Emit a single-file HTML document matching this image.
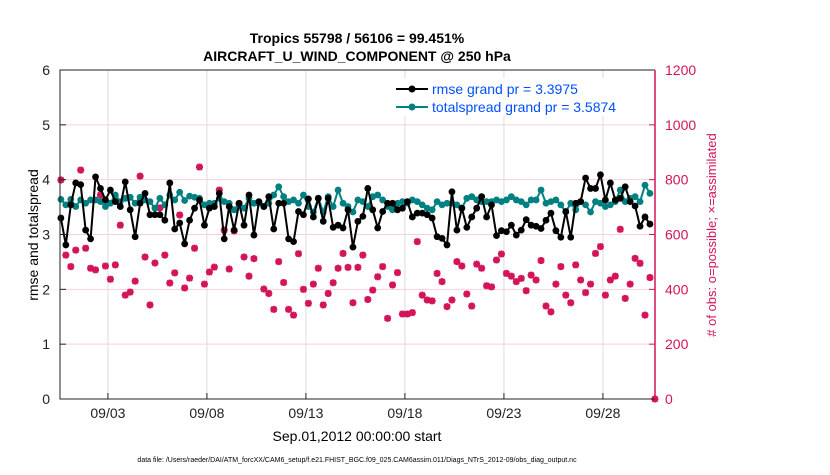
<!DOCTYPE html>
<html><head><meta charset="utf-8"><style>
body{margin:0;background:#fff;}
svg{font-family:"Liberation Sans",sans-serif;}
</style></head><body>
<svg id="chart" width="830" height="470" xmlns="http://www.w3.org/2000/svg">
<rect width="830" height="470" fill="#fff"/>
<g id="grid"></g>
<g id="series"></g>
<g id="axes"></g>
<text x="357" y="43" text-anchor="middle" font-size="14" font-weight="bold">Tropics 55798 / 56106 = 99.451%</text>
<text x="357" y="61" text-anchor="middle" font-size="14" font-weight="bold">AIRCRAFT_U_WIND_COMPONENT @ 250 hPa</text>
<text transform="translate(38,235) rotate(-90)" text-anchor="middle" font-size="14">rmse and totalspread</text>
<text transform="translate(716,235) rotate(-90)" text-anchor="middle" font-size="13" fill="#d4145a"># of obs: o=possible; ×=assimilated</text>
<text x="357" y="441" text-anchor="middle" font-size="14">Sep.01,2012 00:00:00 start</text>
<text x="357" y="462" text-anchor="middle" font-size="7">data file: /Users/raeder/DAI/ATM_forcXX/CAM6_setup/f.e21.FHIST_BGC.f09_025.CAM6assim.011/Diags_NTrS_2012-09/obs_diag_output.nc</text>
<g>
<rect x="392" y="78" width="260" height="38" fill="#fff"/>
<line x1="396" y1="89" x2="428" y2="89" stroke="#000" stroke-width="2"/>
<circle cx="412" cy="89" r="3.5" fill="#000"/>
<text x="432" y="94" font-size="14" fill="#0050ff">rmse grand pr = 3.3975</text>
<line x1="396" y1="107" x2="428" y2="107" stroke="#008080" stroke-width="2"/>
<circle cx="412" cy="107" r="3.5" fill="#008080"/>
<text x="432" y="112" font-size="14" fill="#0050ff">totalspread grand pr = 3.5874</text>
</g>
</svg>
<script>
const rmse=[3.30,2.81,3.54,3.94,3.91,3.08,2.92,4.05,3.84,3.63,3.81,3.60,3.51,3.96,3.45,2.96,3.57,3.75,3.36,3.36,3.36,3.26,3.94,3.10,3.21,2.83,3.26,3.48,3.63,3.17,3.48,3.51,3.75,2.92,3.51,3.08,3.57,3.17,3.72,2.99,3.60,3.51,
3.69,3.10,3.57,3.57,2.92,2.87,3.42,3.36,3.65,3.32,3.66,3.24,3.66,3.13,3.17,3.12,3.45,2.77,3.24,3.33,3.84,3.45,3.12,3.42,3.57,3.57,3.45,3.48,3.60,3.32,3.39,3.39,3.36,3.30,2.96,2.93,2.81,3.78,
3.08,3.48,3.13,3.32,3.48,3.69,3.32,3.54,2.98,3.07,3.05,3.17,2.99,3.08,3.27,3.17,3.15,3.11,3.26,3.39,3.07,2.95,3.42,2.95,3.57,3.60,4.03,3.84,3.84,4.09,3.63,3.94,3.63,3.66,3.87,3.60,3.52,3.15,3.32,3.19];
const spread=[3.64,3.54,3.64,3.51,3.63,3.57,3.63,3.63,3.60,3.51,3.57,3.72,3.60,3.66,3.68,3.57,3.68,3.63,3.60,3.48,3.66,3.54,3.72,3.63,3.77,3.62,3.70,3.68,3.66,3.54,3.57,3.57,3.66,3.60,3.57,3.45,3.57,3.48,3.66,3.57,3.57,3.51,
3.57,3.72,3.87,3.69,3.60,3.63,3.57,3.72,3.51,3.41,3.66,3.41,3.69,3.51,3.81,3.57,3.51,3.41,3.63,3.60,3.51,3.69,3.72,3.63,3.51,3.45,3.57,3.60,3.57,3.63,3.60,3.54,3.48,3.45,3.60,3.54,3.57,3.57,
3.54,3.48,3.66,3.69,3.63,3.60,3.60,3.60,3.63,3.60,3.63,3.69,3.63,3.60,3.54,3.63,3.63,3.81,3.57,3.60,3.63,3.54,3.41,3.57,3.45,3.60,3.54,3.41,3.60,3.57,3.51,3.54,3.60,3.81,3.60,3.66,3.69,3.60,3.90,3.75];
const nobs=[799,525,483,543,835,550,477,471,744,485,437,489,634,379,390,430,813,518,343,496,697,525,423,460,671,405,441,550,846,419,463,481,762,616,474,613,712,518,448,512,715,401,
385,327,501,425,327,306,530,400,349,419,477,343,385,424,477,531,480,351,480,525,363,397,446,483,294,416,461,310,310,315,574,379,361,358,458,428,337,361,
501,485,383,339,492,477,413,409,507,529,458,448,428,440,395,452,434,505,339,318,419,483,379,351,489,434,388,419,531,556,379,434,448,619,367,419,513,495,306,443,0];
const xTickDays=[3,8,13,18,23,28];
const xTickLabels=["09/03","09/08","09/13","09/18","09/23","09/28"];
const yTicks=[0,1,2,3,4,5,6];
const y2Ticks=[0,200,400,600,800,1000,1200];

const L=60,R=655,T=70,B=399,D0=0.58,D1=30.63;
const NS="http://www.w3.org/2000/svg";
function xs(d){return L+(d-D0)/(D1-D0)*(R-L);}
function ys(v){return B-v/6*(B-T);}
function ys2(v){return B-v/1200*(B-T);}
function dayOf(i){return 0.625+0.25*i;}
function mk(tag,attrs,parent){const e=document.createElementNS(NS,tag);for(const k in attrs)e.setAttribute(k,attrs[k]);parent.appendChild(e);return e;}
const grid=document.getElementById('grid'),ser=document.getElementById('series'),ax=document.getElementById('axes');
xTickDays.forEach((d,i)=>{
 const g=mk('line',{x1:xs(d),x2:xs(d),y1:T,y2:B,stroke:'#dcdcdc','stroke-width':1},grid);
 
 
 const t=mk('line',{x1:xs(d),x2:xs(d),y1:B,y2:B-6,stroke:'#222','stroke-width':1},ax);
 
 
 const tx=mk('text',{x:xs(d),y:B+19,'text-anchor':'middle','font-size':14,fill:'#222'},ax);
 tx.textContent=xTickLabels[i];
 
 
});
y2Ticks.forEach(v=>{
 if(v>0&&v<1200){const g=mk('line',{x1:L,x2:R,y1:ys2(v),y2:ys2(v),stroke:'#f5d0dd','stroke-width':1},grid);
 
 }
 const t=mk('line',{x1:R,x2:R-6,y1:ys2(v),y2:ys2(v),stroke:'#d4145a','stroke-width':1},ax);
 
 
 const tx=mk('text',{x:R+10,y:ys2(v)+5,'font-size':14,fill:'#d4145a'},ax);
 tx.textContent=v;
 
 
});
yTicks.forEach(v=>{
 const t=mk('line',{x1:L,x2:L+6,y1:ys(v),y2:ys(v),stroke:'#222','stroke-width':1},ax);
 
 
 const tx=mk('text',{x:L-10,y:ys(v)+5,'text-anchor':'end','font-size':14,fill:'#222'},ax);
 tx.textContent=v;
 
 
});
let fr=mk('path',{d:`M${R},${T}H${L}V${B}H${R}`,fill:'none',stroke:'#222','stroke-width':1},ax);


let ra=mk('line',{x1:R,x2:R,y1:T,y2:B,stroke:'#d4145a','stroke-width':1.5},ax);


nobs.forEach((v,i)=>{
 const x=xs(dayOf(i)),y=ys2(v),s=3.5;
 const g=mk('path',{d:`M${x-s},${y}H${x+s}M${x},${y-s}V${y+s}M${x-s*0.75},${y-s*0.75}L${x+s*0.75},${y+s*0.75}M${x-s*0.75},${y+s*0.75}L${x+s*0.75},${y-s*0.75}`,stroke:'#d4145a','stroke-width':2.2,fill:'none'},ser);
 
 
});
function line(arr,color,name){
 const p=mk('polyline',{points:arr.map((v,i)=>xs(dayOf(i))+','+ys(v)).join(' '),fill:'none',stroke:color,'stroke-width':2},ser);
 
 
 arr.forEach((v,i)=>{const c=mk('circle',{cx:xs(dayOf(i)),cy:ys(v),r:3.4,fill:color},ser);
 
 });
}
line(spread,'#008080','totalspread');
line(rmse,'#000','rmse');
</script>
</body></html>
